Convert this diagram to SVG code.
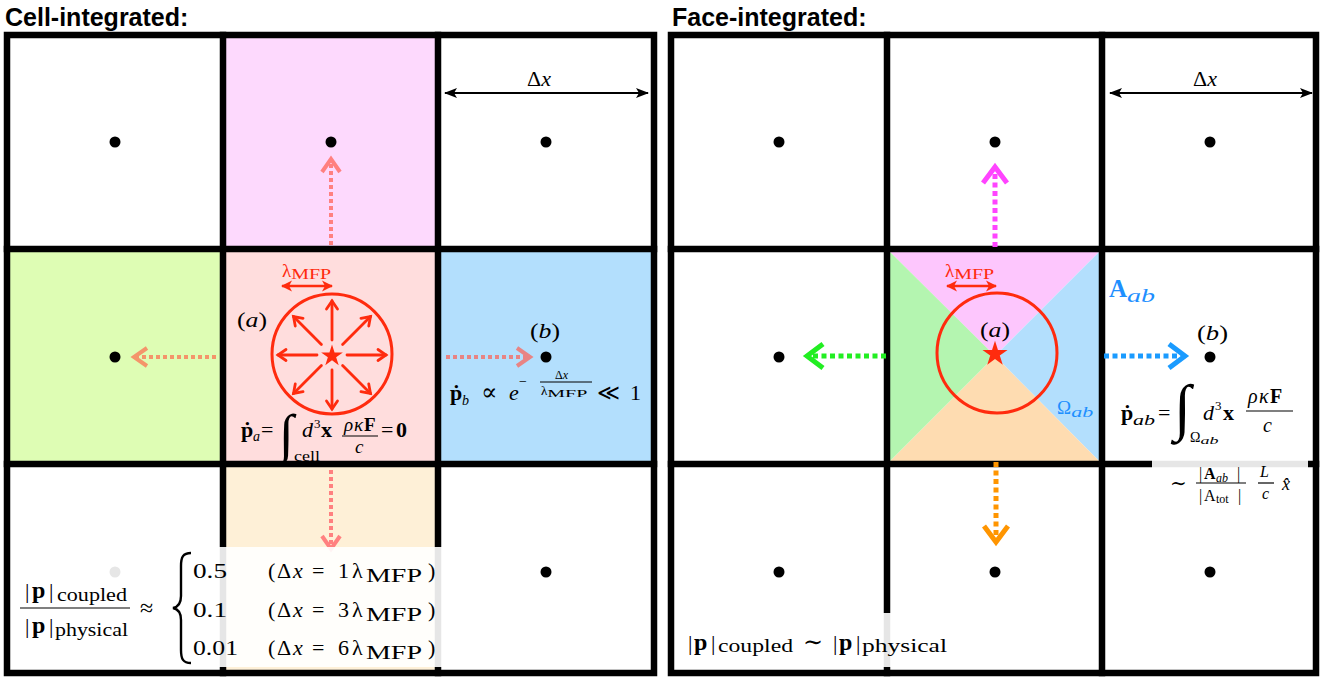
<svg xmlns="http://www.w3.org/2000/svg" width="1322" height="683" viewBox="0 0 1322 683">
<defs>
<style>
.title{font-family:"Liberation Sans",Arial,sans-serif;font-weight:bold;font-size:25px;fill:#000}
.m{font-family:"Liberation Serif","DejaVu Serif",serif;fill:#000}
.i{font-style:italic}
.b{font-weight:bold}
.grid{stroke:#000;stroke-width:6.5;fill:none;stroke-linecap:square}
.dot{fill:#000}
.rs{stroke:#FF2B0E;fill:none}
.rf{fill:#FF2B0E}
.conL{fill:none;stroke-width:4;stroke-dasharray:4 3}
.conR{fill:none;stroke-width:5;stroke-dasharray:5 3.5}
.fr{stroke:#000;stroke-width:1.2}
.box{fill:#fff;fill-opacity:0.9}
</style>
<marker id="hA" markerUnits="userSpaceOnUse" orient="auto" overflow="visible" markerWidth="30" markerHeight="30"><path d="M-13,-9 L0,0 L-13,9" fill="none" stroke="#FF8080" stroke-width="4"/></marker>
<marker id="hB" markerUnits="userSpaceOnUse" orient="auto" overflow="visible" markerWidth="30" markerHeight="30"><path d="M-13,-9 L0,0 L-13,9" fill="none" stroke="#F4956A" stroke-width="4"/></marker>
<marker id="hC" markerUnits="userSpaceOnUse" orient="auto" overflow="visible" markerWidth="30" markerHeight="30"><path d="M-13,-9 L0,0 L-13,9" fill="none" stroke="#E88484" stroke-width="4"/></marker>
<marker id="hM" markerUnits="userSpaceOnUse" orient="auto" overflow="visible" markerWidth="30" markerHeight="30"><path d="M-16,-12 L0,0 L-16,12" fill="none" stroke="#FF44FF" stroke-width="5"/></marker>
<marker id="hG" markerUnits="userSpaceOnUse" orient="auto" overflow="visible" markerWidth="30" markerHeight="30"><path d="M-16,-12 L0,0 L-16,12" fill="none" stroke="#22EE22" stroke-width="5"/></marker>
<marker id="hBl" markerUnits="userSpaceOnUse" orient="auto" overflow="visible" markerWidth="30" markerHeight="30"><path d="M-16,-12 L0,0 L-16,12" fill="none" stroke="#1A9BFF" stroke-width="5"/></marker>
<marker id="hO" markerUnits="userSpaceOnUse" orient="auto" overflow="visible" markerWidth="30" markerHeight="30"><path d="M-16,-12 L0,0 L-16,12" fill="none" stroke="#FF9500" stroke-width="5"/></marker>
<marker id="hR" markerUnits="userSpaceOnUse" orient="auto" overflow="visible" markerWidth="20" markerHeight="20"><path d="M-8,-5.5 L0,0 L-8,5.5" fill="none" stroke="#FF2B0E" stroke-width="2.8" stroke-linecap="round"/></marker>
<marker id="hRF" markerUnits="userSpaceOnUse" orient="auto-start-reverse" overflow="visible" markerWidth="20" markerHeight="20"><path d="M-10,-5.5 L1,0 L-10,5.5 L-7,0 Z" fill="#FF2B0E"/></marker>
<marker id="hK" markerUnits="userSpaceOnUse" orient="auto-start-reverse" overflow="visible" markerWidth="20" markerHeight="20"><path d="M-12,-5 L1,0 L-12,5 L-9,0 Z" fill="#000"/></marker>
<polygon id="star" points="0,-12 2.69,-3.71 11.41,-3.71 4.36,1.42 7.05,9.71 0,4.58 -7.05,9.71 -4.36,1.42 -11.41,-3.71 -2.69,-3.71"/>
</defs>
<rect width="1322" height="683" fill="#fff"/>

<text class="title" x="5" y="26">Cell-integrated:</text>
<text class="title" x="672" y="26">Face-integrated:</text>

<g id="left-fills">
<rect x="223" y="35" width="215" height="214" fill="#FDD9FD"/>
<rect x="7" y="249" width="216" height="215" fill="#DEFDB4"/>
<rect x="223" y="249" width="215" height="215" fill="#FFDDDD"/>
<rect x="438" y="249" width="216" height="215" fill="#B3DFFD"/>
<rect x="223" y="464" width="215" height="209" fill="#FEF0D7"/>
</g>
<g id="right-fills">
<polygon points="887,249 1102,249 995,356" fill="#FDC6FD"/>
<polygon points="1102,249 1102,464 995,356" fill="#B3DFFD"/>
<polygon points="1102,464 887,464 995,356" fill="#FEDCB1"/>
<polygon points="887,464 887,249 995,356" fill="#B4F5B0"/>
</g>
<g id="grids">
<rect class="grid" x="7" y="35" width="647" height="638"/>
<line class="grid" x1="223" y1="35" x2="223" y2="673"/>
<line class="grid" x1="438" y1="35" x2="438" y2="673"/>
<line class="grid" x1="7" y1="249" x2="654" y2="249"/>
<line class="grid" x1="7" y1="464" x2="654" y2="464"/>
<rect class="grid" x="671" y="35" width="645" height="638"/>
<line class="grid" x1="887" y1="35" x2="887" y2="673"/>
<line class="grid" x1="1102" y1="35" x2="1102" y2="673"/>
<line class="grid" x1="671" y1="249" x2="1316" y2="249"/>
<line class="grid" x1="671" y1="464" x2="1316" y2="464"/>
</g>

<g id="L-c11"><circle class="dot" cx="115" cy="142" r="5.5"/></g>
<g id="L-c12"><circle class="dot" cx="331" cy="142" r="5.5"/></g>
<g id="L-c13"><circle class="dot" cx="546" cy="142" r="5.5"/>
<line x1="445" y1="93" x2="648" y2="93" stroke="#000" stroke-width="2" marker-start="url(#hK)" marker-end="url(#hK)"/>
<text class="m" x="527" y="86" font-size="22">Δ<tspan font-style="italic">x</tspan></text></g>
<g id="L-c21"><circle class="dot" cx="115" cy="357" r="5.5"/></g>
<g id="L-c23"><circle class="dot" cx="546" cy="357" r="5.5"/>
<text class="m" x="530" y="338" font-size="22" textLength="30" lengthAdjust="spacingAndGlyphs">(<tspan font-style="italic">b</tspan>)</text></g>
<g id="L-c33"><circle class="dot" cx="546" cy="572" r="5.5"/></g>
<g id="L-c31"><circle class="dot" cx="115" cy="572" r="5.5"/></g>

<g id="R-c11"><circle class="dot" cx="779" cy="142" r="5.5"/></g>
<g id="R-c12"><circle class="dot" cx="995" cy="142" r="5.5"/></g>
<g id="R-c13"><circle class="dot" cx="1210" cy="142" r="5.5"/>
<line x1="1110" y1="93" x2="1312" y2="93" stroke="#000" stroke-width="2" marker-start="url(#hK)" marker-end="url(#hK)"/>
<text class="m" x="1193" y="86" font-size="22">Δ<tspan font-style="italic">x</tspan></text></g>
<g id="R-c21"><circle class="dot" cx="779" cy="357" r="5.5"/></g>
<g id="R-c23"><circle class="dot" cx="1210" cy="357" r="5.5"/>
<text class="m" x="1197" y="340" font-size="22" textLength="31" lengthAdjust="spacingAndGlyphs">(<tspan font-style="italic">b</tspan>)</text></g>
<g id="R-c31"><circle class="dot" cx="779" cy="572" r="5.5"/></g>
<g id="R-c32"><circle class="dot" cx="995" cy="572" r="5.5"/></g>
<g id="R-c33"><circle class="dot" cx="1210" cy="572" r="5.5"/></g>

<g id="connectors">
<line class="conL" x1="331" y1="245" x2="331" y2="159" stroke="#FF8080" marker-end="url(#hA)"/>
<line class="conL" x1="216" y1="357" x2="134" y2="357" stroke="#F4956A" marker-end="url(#hB)"/>
<line class="conL" x1="446" y1="357" x2="530" y2="357" stroke="#E88484" marker-end="url(#hC)"/>
<line class="conL" x1="331" y1="470" x2="331" y2="549" stroke="#FF8080" marker-end="url(#hA)"/>
<line class="conR" x1="995" y1="247" x2="995" y2="167" stroke="#FF44FF" marker-end="url(#hM)"/>
<line class="conR" x1="886" y1="356" x2="807" y2="356" stroke="#22EE22" marker-end="url(#hG)"/>
<line class="conR" x1="1104" y1="356" x2="1185" y2="356" stroke="#1A9BFF" marker-end="url(#hBl)"/>
<line class="conR" x1="996" y1="462" x2="996" y2="542" stroke="#FF9500" marker-end="url(#hO)"/>
</g>

<g id="L-c22">
<circle class="rs" cx="332" cy="354" r="60" stroke-width="3"/>
<g stroke="#FF2B0E" stroke-width="2.8" stroke-linecap="round">
<line x1="347" y1="355" x2="386" y2="355" marker-end="url(#hR)"/>
<line x1="342.6" y1="365.6" x2="370.5" y2="393.5" marker-end="url(#hR)"/>
<line x1="332" y1="370" x2="332" y2="409" marker-end="url(#hR)"/>
<line x1="321.4" y1="365.6" x2="293.5" y2="393.5" marker-end="url(#hR)"/>
<line x1="317" y1="355" x2="278" y2="355" marker-end="url(#hR)"/>
<line x1="321.4" y1="344.4" x2="293.5" y2="316.5" marker-end="url(#hR)"/>
<line x1="332" y1="340" x2="332" y2="301" marker-end="url(#hR)"/>
<line x1="342.6" y1="344.4" x2="370.5" y2="316.5" marker-end="url(#hR)"/>
</g>
<use href="#star" class="rf" transform="translate(332,356) scale(0.95)"/>
<line x1="282" y1="286" x2="332" y2="286" stroke="#FF2B0E" stroke-width="2.6" marker-start="url(#hRF)" marker-end="url(#hRF)"/>
<text class="m" x="282" y="277" font-size="19" style="fill:#FF2B0E">λ<tspan font-size="15" dy="2" textLength="40" lengthAdjust="spacingAndGlyphs">MFP</tspan></text>
<text class="m" x="237" y="327" font-size="22" textLength="30" lengthAdjust="spacingAndGlyphs">(<tspan font-style="italic">a</tspan>)</text>
<text class="m b" x="241" y="437" font-size="22">ṗ</text>
<text class="m i" x="253" y="441" font-size="14">a</text>
<text class="m" x="261" y="437" font-size="22">=</text>
<text class="m" x="279" y="452" font-size="54">∫</text>
<text class="m" x="294" y="461" font-size="15" textLength="26" lengthAdjust="spacingAndGlyphs">cell</text>
<text class="m i" x="302" y="437" font-size="22">d</text>
<text class="m" x="314" y="428" font-size="13">3</text>
<text class="m b" x="321" y="437" font-size="22">x</text>
<text class="m" y="431" font-size="19"><tspan x="344" font-style="italic">ρ</tspan><tspan x="354" font-style="italic">κ</tspan><tspan x="364" font-weight="bold">F</tspan></text>
<line class="fr" x1="342" y1="436" x2="378" y2="436"/>
<text class="m i" x="355" y="453" font-size="19">c</text>
<text class="m" x="381" y="437" font-size="22">=</text>
<text class="m b" x="396" y="437" font-size="22">0</text>
</g>

<g id="L-formula-b">
<text class="m b" x="450" y="400" font-size="22">ṗ</text>
<text class="m i" x="462" y="405" font-size="14">b</text>
<text class="m" x="481" y="400" font-size="24">∝</text>
<text class="m i" x="509" y="400" font-size="22">e</text>
<text class="m" x="519" y="386" font-size="14">−</text>
<text class="m" x="555" y="379" font-size="12">Δ<tspan font-style="italic">x</tspan></text>
<line x1="540" y1="382" x2="592" y2="382" stroke="#000" stroke-width="1"/>
<text class="m" x="541" y="395" font-size="13">λ<tspan font-size="11" dy="2" textLength="40" lengthAdjust="spacingAndGlyphs">MFP</tspan></text>
<text class="m" x="597" y="400" font-size="22">≪</text>
<text class="m" x="630" y="400" font-size="22">1</text>
</g>

<g id="R-c22">
<circle class="rs" cx="997" cy="353" r="60" stroke-width="3"/>
<use href="#star" class="rf" transform="translate(995,354) scale(1.1)"/>
<line x1="947" y1="286" x2="996" y2="286" stroke="#FF2B0E" stroke-width="2.6" marker-start="url(#hRF)" marker-end="url(#hRF)"/>
<text class="m" x="945" y="277" font-size="19" style="fill:#FF2B0E">λ<tspan font-size="15" dy="2" textLength="40" lengthAdjust="spacingAndGlyphs">MFP</tspan></text>
<text class="m" x="980" y="337" font-size="22" textLength="30" lengthAdjust="spacingAndGlyphs">(<tspan font-style="italic">a</tspan>)</text>
<text class="m" x="1057" y="414" font-size="19" style="fill:#1E8FFF">Ω<tspan font-size="14" dy="3" font-style="italic" textLength="22" lengthAdjust="spacingAndGlyphs">ab</tspan></text>
</g>

<g id="R-face-label">
<text class="m b" x="1109" y="297" font-size="25" style="fill:#1E8FFF">A</text>
<text class="m i" x="1127" y="302" font-size="18" textLength="28" lengthAdjust="spacingAndGlyphs" style="fill:#1E8FFF">ab</text>
</g>

<g id="R-formula">
<text class="m b" x="1121" y="420" font-size="22">ṗ</text>
<text class="m i" x="1133" y="425" font-size="15" textLength="22" lengthAdjust="spacingAndGlyphs">ab</text>
<text class="m" x="1158" y="420" font-size="22">=</text>
<text class="m" x="1174" y="428" font-size="62">∫</text>
<text class="m" x="1190" y="442" font-size="14">Ω<tspan font-size="11" dy="2" font-style="italic" textLength="18" lengthAdjust="spacingAndGlyphs">ab</tspan></text>
<text class="m i" x="1203" y="420" font-size="22">d</text>
<text class="m" x="1215" y="410" font-size="13">3</text>
<text class="m b" x="1223" y="420" font-size="22">x</text>
<text class="m" y="403" font-size="20"><tspan x="1248" font-style="italic">ρ</tspan><tspan x="1259" font-style="italic">κ</tspan><tspan x="1270" font-weight="bold">F</tspan></text>
<line class="fr" x1="1246" y1="411" x2="1293" y2="411"/>
<text class="m i" x="1263" y="432" font-size="20">c</text>
<rect class="box" x="1152" y="459" width="156" height="50"/>
<text class="m" x="1170" y="490" font-size="20">∼</text>
<text class="m" y="479" font-size="16"><tspan x="1199">|</tspan><tspan x="1204" font-weight="bold">A</tspan><tspan x="1216" dy="3" font-size="12" font-style="italic">ab</tspan><tspan x="1237" dy="-3">|</tspan></text>
<line class="fr" x1="1196" y1="483" x2="1246" y2="483"/>
<text class="m" y="501" font-size="16"><tspan x="1199">|</tspan><tspan x="1204">A</tspan><tspan x="1216" dy="2" font-size="12">tot</tspan><tspan x="1238" dy="-2">|</tspan></text>
<text class="m i" x="1260" y="477" font-size="16">L</text>
<line class="fr" x1="1258" y1="483" x2="1274" y2="483"/>
<text class="m i" x="1262" y="499" font-size="16">c</text>
<text class="m i" x="1282" y="490" font-size="18">x&#x302;</text>
</g>

<g id="L-ratio">
<rect class="box" x="11" y="547" width="433" height="120"/>
<text class="m" y="598" font-size="22"><tspan x="25">|</tspan><tspan x="32" font-weight="bold" font-size="24">p</tspan><tspan x="49">|</tspan><tspan x="57" dy="3" font-size="18" textLength="70" lengthAdjust="spacingAndGlyphs">coupled</tspan></text>
<line class="fr" x1="20" y1="608" x2="130" y2="608"/>
<text class="m" y="633" font-size="22"><tspan x="25">|</tspan><tspan x="32" font-weight="bold" font-size="24">p</tspan><tspan x="49">|</tspan><tspan x="55" dy="3" font-size="18" textLength="73" lengthAdjust="spacingAndGlyphs">physical</tspan></text>
<text class="m" x="140" y="616" font-size="24">≈</text>
<path d="M191,553 C183,553 181,557 181,566 L181,596 C181,604 178,607 173,608 C178,609 181,612 181,620 L181,650 C181,659 183,663 191,663" fill="none" stroke="#000" stroke-width="2.4"/>
<g class="m" font-size="22">
<text x="193" y="578" textLength="34" lengthAdjust="spacingAndGlyphs">0.5</text>
<text x="193" y="617" textLength="34" lengthAdjust="spacingAndGlyphs">0.1</text>
<text x="193" y="655" textLength="45" lengthAdjust="spacingAndGlyphs">0.01</text>
</g>
<text class="m" y="578" font-size="22"><tspan x="268">(</tspan><tspan x="277">Δ</tspan><tspan x="293" font-style="italic">x</tspan><tspan x="312">=</tspan><tspan x="338">1</tspan><tspan x="352">λ</tspan><tspan x="366" dy="4" font-size="18" textLength="56" lengthAdjust="spacingAndGlyphs">MFP</tspan><tspan x="428" dy="-4">)</tspan></text>
<text class="m" y="617" font-size="22"><tspan x="268">(</tspan><tspan x="277">Δ</tspan><tspan x="293" font-style="italic">x</tspan><tspan x="312">=</tspan><tspan x="338">3</tspan><tspan x="352">λ</tspan><tspan x="366" dy="4" font-size="18" textLength="56" lengthAdjust="spacingAndGlyphs">MFP</tspan><tspan x="428" dy="-4">)</tspan></text>
<text class="m" y="655" font-size="22"><tspan x="268">(</tspan><tspan x="277">Δ</tspan><tspan x="293" font-style="italic">x</tspan><tspan x="312">=</tspan><tspan x="338">6</tspan><tspan x="352">λ</tspan><tspan x="366" dy="4" font-size="18" textLength="56" lengthAdjust="spacingAndGlyphs">MFP</tspan><tspan x="428" dy="-4">)</tspan></text>
</g>

<g id="R-ratio">
<rect class="box" x="676" y="613" width="217" height="54"/>
<text class="m" y="650" font-size="22"><tspan x="688">|</tspan><tspan x="694" font-weight="bold" font-size="24">p</tspan><tspan x="711">|</tspan><tspan x="718" dy="2" font-size="18" textLength="75" lengthAdjust="spacingAndGlyphs">coupled</tspan><tspan x="803" dy="-2" font-size="24">∼</tspan><tspan x="833">|</tspan><tspan x="839" font-weight="bold" font-size="24">p</tspan><tspan x="856">|</tspan><tspan x="862" dy="2" font-size="18" textLength="85" lengthAdjust="spacingAndGlyphs">physical</tspan></text>
</g>
</svg>
